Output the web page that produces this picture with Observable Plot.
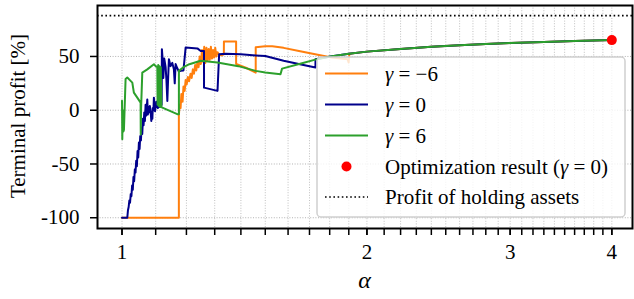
<!DOCTYPE html>
<html>
<head>
<meta charset="utf-8">
<script src="https://cdn.jsdelivr.net/npm/d3@7"></script>
<script src="https://cdn.jsdelivr.net/npm/@observablehq/plot@0.6"></script>
<style>
  html, body { margin: 0; padding: 0; background: white; }
</style>
</head>
<body>
<div id="chart"></div>
<script>
// ---- data ----
const gammaNeg6 = [
  [1.0, -100], [1.1746, -100], [1.1746, -5], [1.177, 5], [1.1803, 2], [1.183, 15], [1.187, 8],
  [1.190, 22], [1.194, 18], [1.1973, 28], [1.201, 24], [1.205, 31], [1.209, 27], [1.214, 34],
  [1.218, 30], [1.222, 38], [1.226, 34], [1.230, 42], [1.234, 37], [1.238, 45], [1.242, 40],
  [1.246, 50], [1.250, 43], [1.254, 56], [1.258, 45], [1.262, 59], [1.266, 44], [1.270, 58],
  [1.274, 46], [1.278, 57], [1.282, 47], [1.286, 59], [1.290, 48], [1.294, 56], [1.298, 49],
  [1.302, 58], [1.306, 50], [1.310, 54], [1.316, 52], [1.325, 51], [1.334, 52], [1.3344, 64],
  [1.3812, 64], [1.3812, 43], [1.42, 39.5], [1.46, 35], [1.46, 58.5], [1.50, 59.5], [1.53, 59.5],
  [1.58, 58], [1.65, 55], [1.74, 51.5], [1.81, 49], [1.894, 47.5], [1.899, 44.3], [1.903, 52.5],
  [2.0, 54.5], [2.2, 57], [2.4, 59], [2.6, 60.5], [2.8, 61.5], [3.0, 62.5], [3.3, 63.5],
  [3.6, 64.3], [4.0, 65.2]
];
const gamma0 = [
  [1.0, -100], [1.0151, -100], [1.017, -93], [1.019, -90], [1.021, -84], [1.023, -86], [1.025, -78],
  [1.027, -80], [1.029, -70], [1.031, -74], [1.033, -62], [1.035, -66], [1.037, -55], [1.039, -58],
  [1.041, -47], [1.043, -52], [1.045, -38], [1.047, -44], [1.049, -30], [1.051, -36], [1.053, -24],
  [1.055, -28], [1.057, -16], [1.059, -22], [1.061, -8], [1.063, -14], [1.065, -2], [1.067, -10],
  [1.069, 5], [1.071, -5], [1.0742, 10], [1.076, -4], [1.078, 3], [1.080, -2], [1.082, 4],
  [1.0844, -1], [1.0865, -10], [1.088, -3], [1.0897, -8], [1.091, 2], [1.093, 0], [1.0945, 11.7],
  [1.096, 2], [1.098, -1], [1.0998, 3], [1.102, 8], [1.104, 3], [1.1051, 7], [1.107, 2],
  [1.109, 5], [1.111, 3], [1.1134, 6], [1.116, 4], [1.1187, 5], [1.1195, 56.8], [1.1225, 45],
  [1.1241, 30], [1.127, 48], [1.1292, 44], [1.1314, 40], [1.134, 28], [1.1369, 8.6], [1.1395, 30],
  [1.1420, 47.5], [1.1475, 41], [1.1530, 44], [1.1582, 38], [1.1610, 25], [1.1638, 43],
  [1.1694, 39], [1.1746, 36], [1.1803, 36.6], [1.19, 37], [1.1973, 58.3], [1.2378, 57.5],
  [1.2495, 55], [1.2613, 55], [1.2613, 21], [1.3104, 18], [1.3164, 52], [1.34, 52.5], [1.40, 52],
  [1.46, 51], [1.50, 50.5], [1.58, 46], [1.66, 42.5], [1.729, 39.7], [1.729, 47.5], [1.804, 50],
  [1.9, 52.5], [2.0, 54.5], [2.2, 57], [2.4, 59], [2.6, 60.5], [2.8, 61.5], [3.0, 62.5],
  [3.3, 63.5], [3.6, 64.3], [4.0, 65.2]
];
const gamma6 = [
  [1.0, 8.7], [1.0008, -27], [1.002, 0], [1.003, -20], [1.0045, -10], [1.0054, -19], [1.0102, 29],
  [1.0151, 30.4], [1.0246, 27.3], [1.0296, 25.7], [1.0342, 16.4], [1.0442, 11.7], [1.0540, 7.1],
  [1.0545, -22.6], [1.0555, 2], [1.0591, 35], [1.0742, 38], [1.0945, 42.8], [1.0998, 41],
  [1.1051, 40], [1.106, 5], [1.108, 42], [1.110, 4], [1.112, 41], [1.114, 3], [1.116, 40],
  [1.118, 3], [1.1209, 2.4], [1.1694, -3.7], [1.1747, -3.7], [1.1747, 36.6], [1.19, 40],
  [1.21, 42.8], [1.2495, 46], [1.31, 44.3], [1.39, 41], [1.46, 36.6], [1.50, 35], [1.566, 33.5],
  [1.573, 38.7], [1.66, 43.5], [1.737, 47.5], [1.804, 50], [1.9, 52.5], [2.0, 54.5], [2.2, 57],
  [2.4, 59], [2.6, 60.5], [2.8, 61.5], [3.0, 62.5], [3.3, 63.5], [3.6, 64.3], [4.0, 65.2]
];
const optimizationResult = [[4.0, 65.2]];
const holdingProfit = [88];

const xMajorTicks = [1, 2, 3, 4];
const xMinorTicks = [1.0, 1.1, 1.2, 1.3, 1.4, 1.5, 1.6, 1.7, 1.8, 1.9, 2.0, 2.1, 2.2, 2.3, 2.4, 2.5,
  2.6, 2.7, 2.8, 2.9, 3.0, 3.1, 3.2, 3.3, 3.4, 3.5, 3.6, 3.7, 3.8, 3.9, 4.0];
const yTicks = [-100, -50, 0, 50];

const seriesLabels = ["γ = −6", "γ = 0", "γ = 6"];
const colors = ["#ff7f0e", "#00008b", "#2ca02c"];
const xLabel = "α";
const yLabel = "Terminal profit [%]";

const FONT = "'Liberation Serif', 'Times New Roman', serif";

const chart = Plot.plot({
  width: 634,
  height: 299,
  marginLeft: 97,
  marginRight: 2,
  marginTop: 5,
  marginBottom: 71,
  style: { fontFamily: FONT, fontSize: "21px", background: "white", color: "black", overflow: "visible" },
  x: { type: "log", domain: [0.933, 4.241] },
  y: { domain: [-110, 97.4] },
  marks: [
    Plot.gridX(xMinorTicks, { stroke: "#b0b0b0", strokeOpacity: 1, strokeWidth: 0.8, strokeDasharray: "1,1.6" }),
    Plot.gridY(yTicks, { stroke: "#a0a0a0", strokeOpacity: 1, strokeWidth: 0.8, strokeDasharray: "1,1.6" }),
    Plot.ruleY(holdingProfit, { stroke: "black", strokeWidth: 1.6, strokeDasharray: "1.6,2.6" }),
    Plot.line(gammaNeg6, { x: d => d[0], y: d => d[1], stroke: colors[0], strokeWidth: 2 }),
    Plot.line(gamma0, { x: d => d[0], y: d => d[1], stroke: colors[1], strokeWidth: 2 }),
    Plot.line(gamma6, { x: d => d[0], y: d => d[1], stroke: colors[2], strokeWidth: 2 }),
    Plot.dot(optimizationResult, { x: d => d[0], y: d => d[1], r: 5, fill: "#ff0000", stroke: "none" }),
    Plot.frame({ stroke: "black", strokeWidth: 2 }),
    Plot.axisX(xMinorTicks, { tickSize: 7, strokeWidth: 1.5, stroke: "black", tickFormat: () => "", label: null }),
    Plot.axisX(xMajorTicks, { tickSize: 7, tickPadding: 9, strokeWidth: 1.5, stroke: "black", fill: "black", tickFormat: d => String(d), label: null }),
    Plot.axisY(yTicks, { tickSize: 7, tickPadding: 11, strokeWidth: 1.5, stroke: "black", fill: "black", tickFormat: d => String(d), label: null })
  ]
});

const svg = d3.select(chart);

// axis titles
svg.append("text")
  .attr("transform", "translate(25,116) rotate(-90)")
  .attr("text-anchor", "middle")
  .attr("font-family", FONT).attr("font-size", 21).attr("fill", "black")
  .text(yLabel);
svg.append("text")
  .attr("x", 364.5).attr("y", 288)
  .attr("text-anchor", "middle")
  .attr("font-family", FONT).attr("font-style", "italic").attr("font-size", 24).attr("fill", "black")
  .text(xLabel);

// legend
const lg = svg.append("g").attr("text-anchor", "start");
lg.append("rect")
  .attr("x", 317).attr("y", 57).attr("width", 308).attr("height", 160).attr("rx", 4)
  .attr("fill", "white").attr("fill-opacity", 0.8)
  .attr("stroke", "#d0d0d0").attr("stroke-width", 1.5);
const rows = [73.5, 104.5, 135.5, 166.5, 197];
function mathLabel(g, y, parts) {
  const t = g.append("text").attr("x", 385).attr("y", y + 7)
    .attr("text-anchor", "start")
    .attr("font-family", FONT).attr("font-size", 21).attr("fill", "black");
  parts.forEach(p => {
    const s = t.append("tspan").text(p.t);
    if (p.i) s.attr("font-style", "italic");
  });
}
seriesLabels.forEach((lab, i) => {
  lg.append("line").attr("x1", 325).attr("x2", 368).attr("y1", rows[i]).attr("y2", rows[i])
    .attr("stroke", colors[i]).attr("stroke-width", 2);
  const [g0, rest] = [lab.slice(0, 1), lab.slice(1)];
  mathLabel(lg, rows[i], [{ t: g0, i: true }, { t: rest }]);
});
lg.append("circle").attr("cx", 346.5).attr("cy", rows[3]).attr("r", 5).attr("fill", "#ff0000");
mathLabel(lg, rows[3], [{ t: "Optimization result (" }, { t: "γ", i: true }, { t: " = 0)" }]);
lg.append("line").attr("x1", 325).attr("x2", 368).attr("y1", rows[4]).attr("y2", rows[4])
  .attr("stroke", "black").attr("stroke-width", 1.6).attr("stroke-dasharray", "1.6,2.6");
mathLabel(lg, rows[4], [{ t: "Profit of holding assets" }]);

document.getElementById("chart").appendChild(chart);
</script>
</body>
</html>
